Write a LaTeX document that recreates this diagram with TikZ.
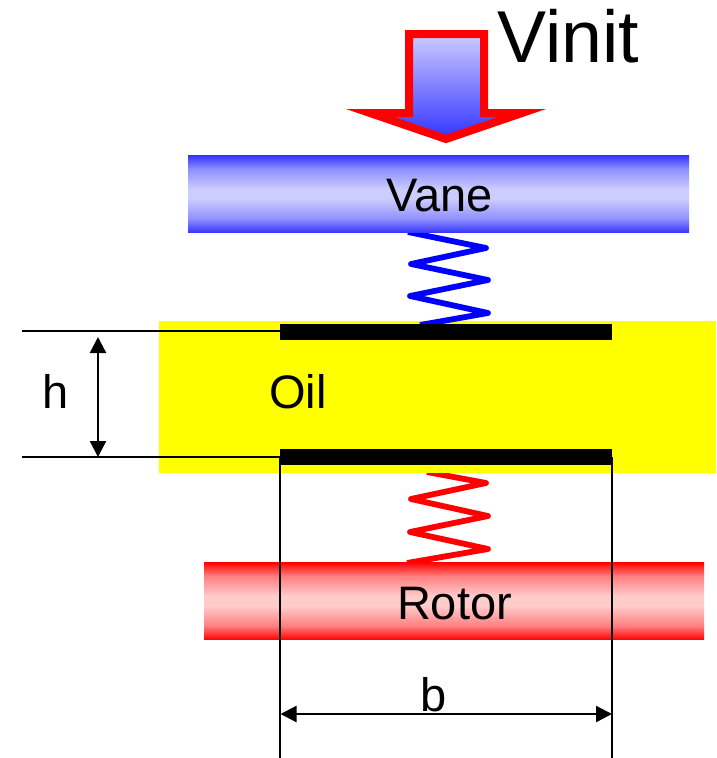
\documentclass[tikz,border=0pt]{standalone}
\usepackage{fontspec}
\setmainfont{Liberation Sans}
\usetikzlibrary{arrows.meta,calc}
\definecolor{vblue}{HTML}{3333FF}
\definecolor{vmid}{HTML}{8F8FFF}
\definecolor{vlight}{HTML}{CCCCFF}
\definecolor{rred}{HTML}{FF0000}
\definecolor{rmid}{HTML}{FF7F7F}
\definecolor{rlight}{HTML}{FFCCCC}
\definecolor{oilyellow}{HTML}{FFFF00}
\definecolor{pureblue}{HTML}{0000FF}
\pgfdeclareverticalshading{vaneshade}{100bp}{color(0bp)=(vblue); color(25bp)=(vblue); color(34bp)=(vmid); color(47bp)=(vlight); color(53bp)=(vlight); color(66bp)=(vmid); color(75bp)=(vblue); color(100bp)=(vblue)}
\pgfdeclareverticalshading{rotorshade}{100bp}{color(0bp)=(rred); color(25bp)=(rred); color(34bp)=(rmid); color(47bp)=(rlight); color(53bp)=(rlight); color(66bp)=(rmid); color(75bp)=(rred); color(100bp)=(rred)}
\tikzset{
  px/.style={x=1pt,y=-1pt},
  plate/.style={rectangle,draw=none,inner sep=0pt,outer sep=0pt,minimum width=#1,minimum height=77.6pt},
  vaneplate/.style={plate=501pt,shading=vaneshade},
  rotorplate/.style={plate=500pt,shading=rotorshade},
  oilbath/.style={rectangle,fill=oilyellow,draw=none,inner sep=0pt,outer sep=0pt,minimum width=557pt,minimum height=152pt},
  film/.style={rectangle,fill=black,draw=none,inner sep=0pt,outer sep=0pt,minimum width=332pt,minimum height=16pt},
  spring/.style={line width=5.8pt,line join=round,line cap=butt},
  thinline/.style={black,line width=1.5pt},
  dim/.style={black,line width=2.4pt,{Triangle[length=16pt,width=16pt]}-{Triangle[length=16pt,width=16pt]}},
  lab/.style={inner sep=0pt,outer sep=0pt,anchor=base,font=\fontsize{47}{47}\selectfont},
  bigarrow/.style={draw=red,line width=8pt,line join=miter,miter limit=10,top color=vlight,bottom color=vblue}
}
\begin{document}
\begin{tikzpicture}[px]
\useasboundingbox (0,0) rectangle (716,758);
% named free ends
\coordinate (sbA) at (408,232);
\coordinate (sbB) at (420,325);
\coordinate (srA) at (427,472);
\coordinate (srB) at (407,563);
\coordinate (htf) at (22,331);
\coordinate (hbf) at (22,457);
\coordinate (blf) at (280,758);
\coordinate (brf) at (612,758);
\coordinate (htip1) at (98,337);
\coordinate (htip2) at (98,457);
% red spring beneath the oil and rotor
\draw[spring,red] (srA) -- (486,483) -- (411,499) -- (488,516) -- (410,532) -- (488,549) -- (srB);
\node[oilbath] (oil) at (437.5,397) {};
% blue spring over the oil, under the vane
\draw[spring,pureblue] (sbA) -- (486,248) -- (411,264) -- (488,280) -- (410,296) -- (488,313) -- (sbB);
\node[vaneplate] (vane) at (438.5,194) {};
\node[rotorplate] (rotor) at (454,601) {};
\node[film] (filmtop) at (446,332) {};
\node[film] (filmbot) at (446,457) {};
% big arrow
\path[bigarrow] (409,34) -- (484,34) -- (484,113) -- (522,113) -- (446,139) -- (370,113) -- (409,113) -- cycle;
% dimension lines
\draw[thinline] (htf) -- (htf -| filmtop.west);
\draw[thinline] (hbf) -- (filmbot.west);
\draw[thinline] (filmbot.west) -- (blf);
\draw[thinline] (filmbot.east) -- (brf);
\draw[dim] (htip1) -- (htip2);
\coordinate (bL) at (280.5,714);
\coordinate (bR) at (612,714);
\draw[dim] (bL) -- (bR);
% labels
\node[lab,font=\fontsize{73.5}{74}\selectfont] (vinit) at (568.5,62) {Vinit};
\node[lab] (vanetxt) at (439.5,211) {Vane};
\node[lab] (rotortxt) at (454.5,619) {Rotor};
\node[lab] (oiltxt) at (298,408) {Oil};
\node[lab] (htxt) at (55.5,408) {h};
\node[lab] (btxt) at (433.5,711) {b};
\end{tikzpicture}
\end{document}
